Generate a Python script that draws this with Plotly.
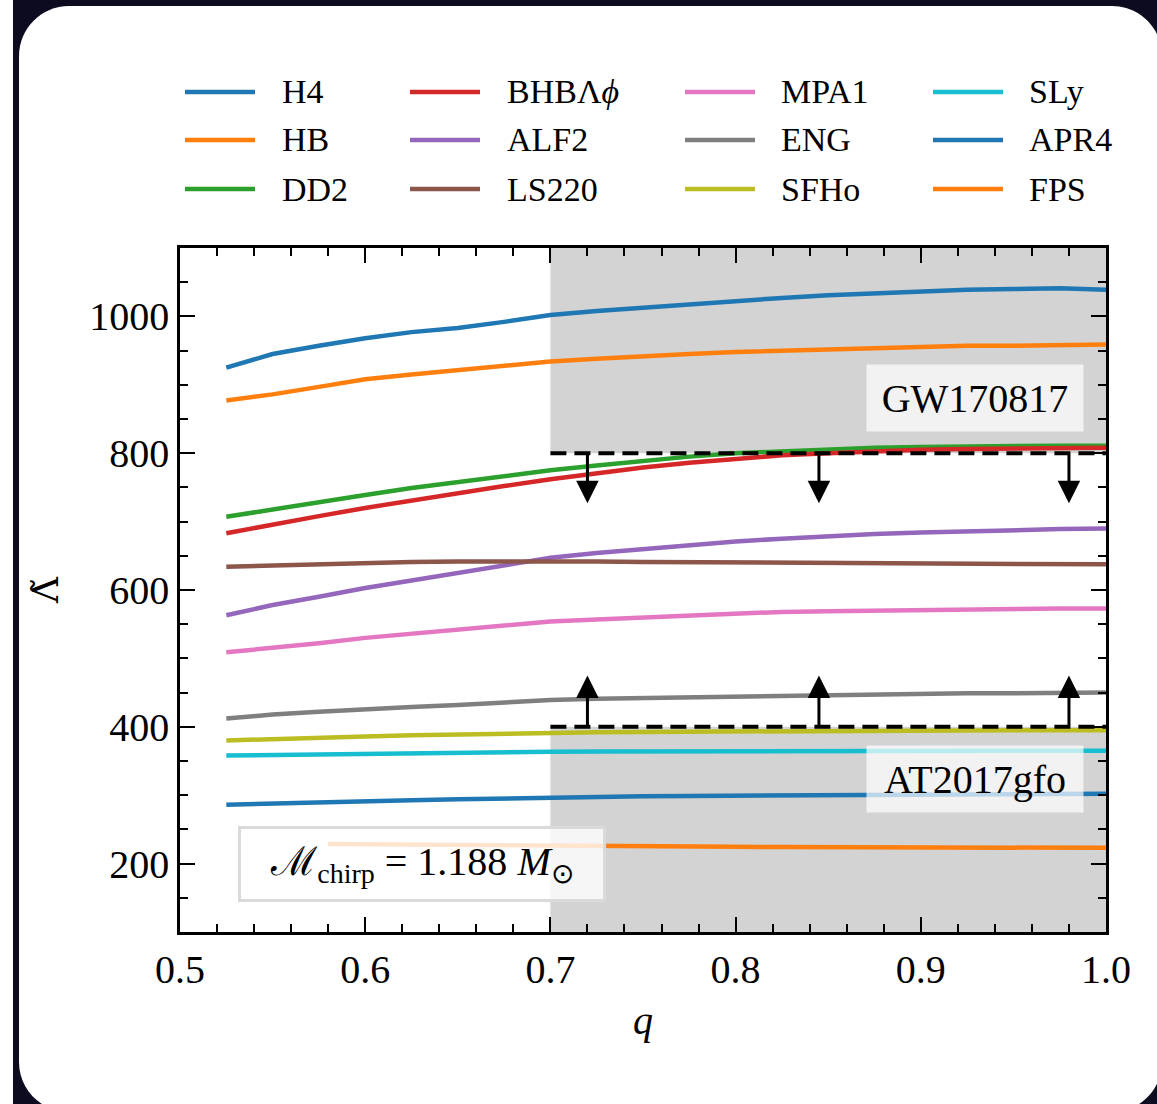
import plotly.graph_objects as go

# ---------------- data ----------------
q = [0.525, 0.55, 0.575, 0.6, 0.625, 0.65, 0.675, 0.7, 0.725, 0.75,
     0.775, 0.8, 0.825, 0.85, 0.875, 0.9, 0.925, 0.95, 0.975, 1.0]
q_fps = [0.58, 0.6, 0.625, 0.65, 0.675, 0.7, 0.725, 0.75, 0.775, 0.8,
         0.825, 0.85, 0.875, 0.9, 0.925, 0.95, 0.975, 1.0]

lam_H4 = [925, 945, 957, 968, 977, 983, 992, 1002, 1008, 1013,
          1017, 1022, 1027, 1031, 1034, 1037, 1039, 1040, 1041, 1039]
lam_HB = [877, 886, 897, 908, 915, 921, 928, 934, 938, 942,
          945, 948, 950, 952, 954, 955, 957, 957, 958, 959]
lam_DD2 = [707, 718, 729, 739, 749, 758, 767, 775, 782, 789,
           795, 800, 803, 806, 808, 809, 810, 811, 811, 811]
lam_BHB = [683, 696, 708, 720, 731, 742, 752, 762, 771, 779,
           786, 792, 797, 800, 803, 805, 806, 807, 808, 808]
lam_ALF2 = [563, 578, 590, 603, 614, 625, 636, 647, 654, 660,
            666, 671, 675, 679, 682, 684, 686, 687, 689, 690]
lam_LS220 = [634, 636, 638, 640, 641, 641.5, 642, 642, 641.5, 641,
             640.5, 640, 639.5, 639, 638.5, 638, 638, 637.5, 637.5, 637.5]
lam_MPA1 = [509, 515, 522, 530, 536, 542, 548, 554, 557, 560,
            563, 566, 568, 569, 570, 571, 572, 572, 573, 573]
lam_ENG = [412, 418, 422, 426, 429, 432, 436, 439, 441, 442,
           444, 445, 446, 447, 448, 448, 449, 449, 450, 450]
lam_SFHo = [380, 382.5, 384.5, 386, 387.5, 389, 390, 391, 392, 392.5,
            393, 393.5, 394, 394, 394.5, 394.5, 395, 395, 395, 395]
lam_SLy = [358, 359, 360, 361, 362, 362.5, 363, 363.5, 364, 364,
           364, 364.5, 364.5, 364.5, 365, 365, 365, 365, 365, 365]
lam_APR4 = [286, 288, 289.5, 291, 292.5, 294, 295.5, 297, 298, 298.5,
            299, 299.5, 300, 300.5, 301, 301, 301.5, 301.5, 302, 302]
lam_FPS = [228.5, 228, 227.5, 227, 226.5, 226, 225.5, 225, 224.8, 224.5,
           224.3, 224, 223.8, 223.6, 223.4, 223.2, 223, 223]

eos_names = ["H4", "HB", "DD2", "BHBΛ<i>ϕ</i>", "ALF2", "LS220",
             "MPA1", "ENG", "SFHo", "SLy", "APR4", "FPS"]
eos_colors = ["#1f77b4", "#ff7f0e", "#2ca02c", "#d62728", "#9467bd", "#8c564b",
              "#e377c2", "#7f7f7f", "#bcbd22", "#17becf", "#1f77b4", "#ff7f0e"]
eos_q = [q] * 11 + [q_fps]
eos_lam = [lam_H4, lam_HB, lam_DD2, lam_BHB, lam_ALF2, lam_LS220,
           lam_MPA1, lam_ENG, lam_SFHo, lam_SLy, lam_APR4, lam_FPS]

# observational bounds
q_bound_min = 0.7
lam_upper = 800     # GW170817
lam_lower = 400     # AT2017gfo
arrow_q = [0.72, 0.845, 0.98]
arrow_down_tip = 727
arrow_up_tip = 475

x_ticks = [0.5, 0.6, 0.7, 0.8, 0.9, 1.0]
y_ticks = [200, 400, 600, 800, 1000]

# ---------------- layout geometry ----------------
W, H = 1157, 1104
ML, MR, MT, MB = 180, 51, 248, 172
PW, PH = W - ML - MR, H - MT - MB
FONT = "Liberation Serif"


def px(x):
    return (x - ML) / PW


def py(y):
    return (H - MB - y) / PH


def rounded_rect_path(x0, y0, x1, y1, r):
    k = 0.5523 * r
    pts = [
        ("M", [(x0 + r, y0)]),
        ("L", [(x1 - r, y0)]),
        ("C", [(x1 - r + k, y0), (x1, y0 + r - k), (x1, y0 + r)]),
        ("L", [(x1, y1 - r)]),
        ("C", [(x1, y1 - r + k), (x1 - r + k, y1), (x1 - r, y1)]),
        ("L", [(x0 + r, y1)]),
        ("C", [(x0 + r - k, y1), (x0, y1 - r + k), (x0, y1 - r)]),
        ("L", [(x0, y0 + r)]),
        ("C", [(x0, y0 + r - k), (x0 + r - k, y0), (x0 + r, y0)]),
    ]
    s = ""
    for cmd, ps in pts:
        s += cmd + " ".join(f"{px(a):.5f},{py(b):.5f}" for a, b in ps) + " "
    return s + "Z"


fig = go.Figure()

for name, col, xs, ys in zip(eos_names, eos_colors, eos_q, eos_lam):
    fig.add_trace(go.Scatter(x=xs, y=ys, mode="lines", name=name,
                             line=dict(color=col, width=4.5),
                             showlegend=False, hoverinfo="skip"))

shapes = [
    # dark surround and white card
    dict(type="rect", xref="paper", yref="paper", layer="below",
         x0=px(13), x1=px(W), y0=py(0), y1=py(H),
         fillcolor="#0c0b20", line=dict(width=0)),
    dict(type="path", xref="paper", yref="paper", layer="below",
         path=rounded_rect_path(19, 6, 1162, 1112, 50),
         fillcolor="white", line=dict(width=0)),
    # excluded regions
    dict(type="rect", xref="x", yref="y", layer="below",
         x0=q_bound_min, x1=1.0, y0=lam_upper, y1=1100,
         fillcolor="#d3d3d3", line=dict(width=0)),
    dict(type="rect", xref="x", yref="y", layer="below",
         x0=q_bound_min, x1=1.0, y0=100, y1=lam_lower,
         fillcolor="#d3d3d3", line=dict(width=0)),
    # bound lines
    dict(type="line", xref="x", yref="y", layer="above",
         x0=q_bound_min, x1=1.0, y0=lam_upper, y1=lam_upper,
         line=dict(color="black", width=4, dash="16px,8px")),
    dict(type="line", xref="x", yref="y", layer="above",
         x0=q_bound_min, x1=1.0, y0=lam_lower, y1=lam_lower,
         line=dict(color="black", width=4, dash="16px,8px")),
]

annotations = []
for xa in arrow_q:
    annotations.append(dict(x=xa, y=arrow_down_tip, ax=xa, ay=lam_upper,
                            xref="x", yref="y", axref="x", ayref="y",
                            text="", showarrow=True, arrowhead=2,
                            arrowsize=1.5, arrowwidth=3, arrowcolor="black"))
    annotations.append(dict(x=xa, y=arrow_up_tip, ax=xa, ay=lam_lower,
                            xref="x", yref="y", axref="x", ayref="y",
                            text="", showarrow=True, arrowhead=2,
                            arrowsize=1.5, arrowwidth=3, arrowcolor="black"))

annotations += [
    dict(x=0.929, y=881, xref="x", yref="y", text="GW170817", showarrow=False,
         font=dict(family=FONT, size=40, color="black"),
         bgcolor="rgba(255,255,255,0.7)", width=208, height=58, borderpad=4),
    dict(x=0.929, y=323, xref="x", yref="y", text="AT2017gfo", showarrow=False,
         font=dict(family=FONT, size=40, color="black"),
         bgcolor="rgba(255,255,255,0.7)", width=208, height=58, borderpad=4),
    dict(x=0.6307, y=199, xref="x", yref="y",
         text="ℳ<sub>chirp</sub> = 1.188 <i>M</i><sub>⊙</sub>", showarrow=False,
         font=dict(family=FONT, size=40, color="black"),
         bgcolor="rgba(255,255,255,0.8)", bordercolor="#dadada",
         borderwidth=3, width=358, height=66, borderpad=2),
]

# legend: four columns of three entries
col_line_x = [185, 410, 685, 933]
col_text_x = [280, 505, 779, 1027]
row_y = [92, 140, 189]
for i, (name, col) in enumerate(zip(eos_names, eos_colors)):
    c, r = divmod(i, 3)
    shapes.append(dict(type="line", xref="paper", yref="paper", layer="above",
                       x0=px(col_line_x[c]), x1=px(col_line_x[c] + 70),
                       y0=py(row_y[r]), y1=py(row_y[r]),
                       line=dict(color=col, width=4.5)))
    annotations.append(dict(x=px(col_text_x[c]), y=py(row_y[r]),
                            xref="paper", yref="paper", text=name,
                            showarrow=False, xanchor="left", yanchor="middle",
                            font=dict(family=FONT, size=34, color="black")))

axis_common = dict(
    showline=True, linecolor="black", linewidth=2.5, mirror="allticks",
    ticks="inside", ticklen=15, tickwidth=2.2, tickcolor="black",
    showgrid=False, zeroline=False,
    tickfont=dict(family=FONT, size=40, color="black"),
)

fig.update_layout(
    width=W, height=H, autosize=False,
    margin=dict(l=ML, r=MR, t=MT, b=MB),
    paper_bgcolor="white", plot_bgcolor="rgba(0,0,0,0)",
    shapes=shapes, annotations=annotations, showlegend=False,
    xaxis=dict(range=[0.5, 1.0], tickvals=x_ticks,
               ticktext=[f"{v:.1f}" for v in x_ticks],
               minor=dict(dtick=0.02, tick0=0.5, ticks="inside", ticklen=8,
                          tickwidth=2, tickcolor="black"),
               title=dict(text="<i>q</i>", standoff=16,
                          font=dict(family=FONT, size=40, color="black")),
               **axis_common),
    yaxis=dict(range=[100, 1100], tickvals=y_ticks,
               minor=dict(dtick=50, tick0=0, ticks="inside", ticklen=8,
                          tickwidth=2, tickcolor="black"),
               title=dict(text="Λ̃", standoff=20,
                          font=dict(family="DejaVu Serif", size=36,
                                    color="black")),
               **axis_common),
)

fig.write_html("out.html")
